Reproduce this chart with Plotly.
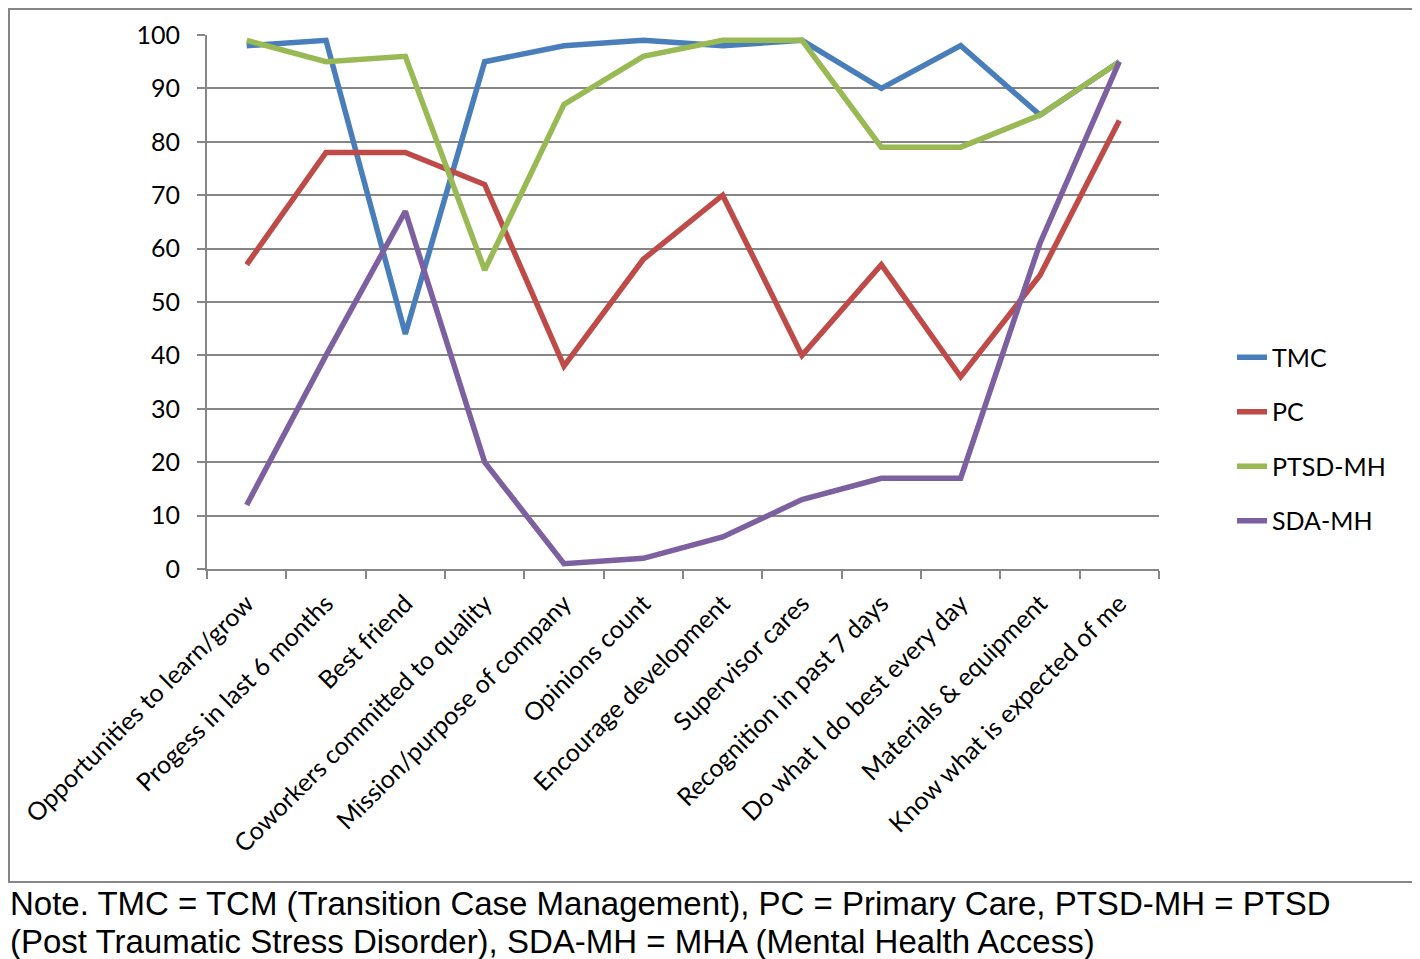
import plotly.graph_objects as go

categories = ["Opportunities to learn/grow", "Progess in last 6 months", "Best friend",
              "Coworkers committed to quality", "Mission/purpose of company", "Opinions count",
              "Encourage development", "Supervisor cares", "Recognition in past 7 days",
              "Do what I do best every day", "Materials & equipment", "Know what is expected of me"]
tmc = [98, 99, 44, 95, 98, 99, 98, 99, 90, 98, 85, 95]
pc = [57, 78, 78, 72, 38, 58, 70, 40, 57, 36, 55, 84]
ptsd_mh = [99, 95, 96, 56, 87, 96, 99, 99, 79, 79, 85, 95]
sda_mh = [12, 40, 67, 20, 1, 2, 6, 13, 17, 17, 61, 95]

series = [("TMC", tmc, "#4A7EBB"), ("PC", pc, "#BE4B48"),
          ("PTSD-MH", ptsd_mh, "#98B954"), ("SDA-MH", sda_mh, "#7D60A0")]

OFF = 8  # page body margin
W, H = 1420 - OFF, 959 - OFF
ML, MR, MT, MB = 207 - OFF, 1420 - 1159, 35 - OFF, 959 - 569
pw, ph = W - ML - MR, H - MT - MB

def px(x):
    return (x - OFF - ML) / pw

def py(y):
    return (H - MB - (y - OFF)) / ph

fig = go.Figure()
for i, (name, vals, col) in enumerate(series):
    fig.add_trace(go.Scatter(x=categories, y=vals, name=name, mode="lines",
                             line=dict(color=col, width=5.5), legendgroup=str(i)))

font_lab = "Lato, 'Open Sans', sans-serif"
fig.update_layout(
    width=W, height=H,
    margin=dict(l=ML, r=MR, t=MT, b=MB, autoexpand=False),
    paper_bgcolor="white", plot_bgcolor="white",
    showlegend=True,
    legend=dict(x=px(1232), y=py(359) + 0.046, xanchor="left", yanchor="top",
                font=dict(family=font_lab, size=25, color="black"),
                tracegroupgap=19, traceorder="grouped", bgcolor="rgba(0,0,0,0)"),
    xaxis=dict(type="category", range=[-0.5, len(categories) - 0.5],
               showline=True, linecolor="#868686", linewidth=2,
               ticks="outside", ticklen=8, tickcolor="#868686", tickwidth=2,
               tickson="boundaries", tickangle=-45, showgrid=False,
               ticklabelstandoff=8,
               tickfont=dict(family=font_lab, size=25, color="black")),
    yaxis=dict(range=[0, 100], dtick=10, showline=True, linecolor="#868686", linewidth=2,
               ticks="outside", ticklen=8, tickcolor="#868686", tickwidth=2,
               showgrid=True, gridcolor="#868686", gridwidth=2, zeroline=False,
               ticklabelstandoff=12,
               tickfont=dict(family=font_lab, size=25, color="black")),
    shapes=[dict(type="rect", xref="paper", yref="paper",
                 x0=px(9), x1=px(1418), y0=py(882), y1=py(9),
                 line=dict(color="#868686", width=2))],
    annotations=[
        dict(xref="paper", yref="paper", x=px(OFF), y=py(903), xanchor="left", yanchor="middle",
             showarrow=False,
             text="Note. TMC = TCM (Transition Case Management), PC = Primary Care, PTSD-MH = PTSD",
             font=dict(family="Liberation Sans, Arial, sans-serif", size=33, color="black")),
        dict(xref="paper", yref="paper", x=px(OFF), y=py(941), xanchor="left", yanchor="middle",
             showarrow=False,
             text="(Post Traumatic Stress Disorder), SDA-MH = MHA (Mental Health Access)",
             font=dict(family="Liberation Sans, Arial, sans-serif", size=33, color="black")),
    ],
)

fig.write_html("out.html")
